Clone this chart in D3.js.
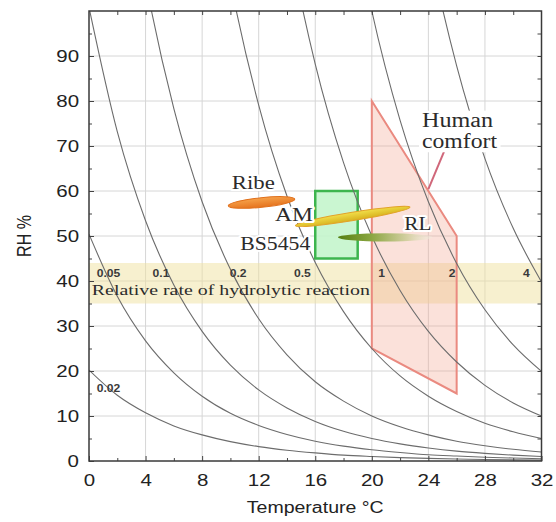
<!DOCTYPE html>
<html>
<head>
<meta charset="utf-8">
<script src="https://cdn.jsdelivr.net/npm/d3@7"></script>
<style>
  body { margin: 0; background: #fff; }
  svg { display: block; }
  .sans { font-family: "Liberation Sans", Arial, sans-serif; fill: #222; }
  .serif { font-family: "Liberation Serif", "Times New Roman", serif; fill: #2b2b2b; }
  .halo { paint-order: stroke; stroke: #fff; stroke-width: 4px; stroke-linejoin: round; }
</style>
</head>
<body>
<div id="chart"></div>
<script>
// axis ticks
const x_ticks = [0, 4, 8, 12, 16, 20, 24, 28, 32];
const y_ticks = [0, 10, 20, 30, 40, 50, 60, 70, 80, 90];

// isoperms: RH % read along the temperature grid (null = above the frame)
const iso_temps = [0, 2, 4, 6, 8, 10, 12, 14, 16, 18, 20, 22, 24, 26, 28, 30, 32];
const iso_002 = [20.2, 14.6, 10.7, 7.8, 5.8, 4.3, 3.2, 2.4, 1.8, 1.3, 1.0, 0.76, 0.58, 0.44, 0.34, 0.26, 0.2];
const iso_005 = [50.4, 36.6, 26.7, 19.6, 14.4, 10.6, 7.9, 5.9, 4.4, 3.3, 2.5, 1.9, 1.4, 1.1, 0.84, 0.65, 0.5];
const iso_01 = [100.8, 73.2, 53.4, 39.1, 28.8, 21.3, 15.8, 11.8, 8.8, 6.6, 5.0, 3.8, 2.9, 2.2, 1.7, 1.3, 1.0];
const iso_02 = [null, 146.4, 106.8, 78.3, 57.6, 42.6, 31.6, 23.6, 17.6, 13.3, 10.0, 7.6, 5.8, 4.4, 3.4, 2.6, 2.0];
const iso_05 = [null, null, null, null, 144.0, 106.5, 79.1, 58.9, 44.1, 33.2, 25.0, 18.9, 14.4, 11.0, 8.4, 6.5, 5.0];
const iso_1 = [null, null, null, null, null, null, 158.1, 117.9, 88.2, 66.3, 50.0, 37.9, 28.8, 22.0, 16.8, 12.9, 10.0];
const iso_2 = [null, null, null, null, null, null, null, null, 176.4, 132.6, 100.0, 75.7, 57.6, 43.9, 33.6, 25.8, 19.9];
const iso_4 = [null, null, null, null, null, null, null, null, null, null, null, 151.5, 115.1, 87.8, 67.2, 51.7, 39.8];

// rate labels inside the band
const rate_labels = ["0.05", "0.1", "0.2", "0.5", "1", "2", "4"];
const rate_label_t = [0.55, 4.5, 9.95, 14.5, 20.45, 25.45, 30.7];
const rate_label_rh = 40.9;
const low_label = "0.02";
const low_label_t = 0.55;
const low_label_rh = 15.3;

// hydrolysis band (RH %)
const band_rh = [35, 44];
const band_text = "Relative rate of hydrolytic reaction";

// human comfort zone
const comfort_t = [20, 26, 26, 20];
const comfort_rh = [80, 50, 15, 25];

// BS5454 box
const bs_t = [16, 19];
const bs_rh = [45, 60];

// recommendation ellipses: start/end (T, RH)
const ribe_t = [9.85, 14.55];
const ribe_rh = [56.7, 58.2];
const am_t = [14.6, 22.7];
const am_rh = [52.3, 56.4];
const rl_t = [17.6, 24.3];
const rl_rh = [49.7, 49.7];

// text annotations
const note_text = ["Ribe", "AM", "BS5454", "RL"];
const note_t = [10.1, 13.15, 10.7, 22.3];
const note_rh = [60.4, 53.3, 47.0, 51.3];
const comfort_text = ["Human", "comfort"];
const comfort_text_t = 23.55;
const comfort_text_rh = [74.3, 69.5];
const leader_t = [25.1, 24.0];
const leader_rh = [68.7, 60.4];

const x = d3.scaleLinear().domain([0, 32]).range([89, 541.5]);
const y = d3.scaleLinear().domain([0, 100]).range([461, 11]);

// horizontal stretch of the original lettering
const widen = (sel, k) => sel.each(function () {
  const n = this.getComputedTextLength();
  d3.select(this).attr("textLength", n * k).attr("lengthAdjust", "spacingAndGlyphs");
});

const fit = (sel, w) => sel.attr("textLength", w).attr("lengthAdjust", "spacingAndGlyphs");

const load_content = () => {
  const svg = d3.select("#chart").append("svg")
    .attr("width", 556)
    .attr("height", 522);

  const defs = svg.append("defs");
  defs.append("clipPath").attr("id", "plot-clip")
    .append("rect")
    .attr("x", x(0)).attr("y", y(100))
    .attr("width", x(32) - x(0)).attr("height", y(0) - y(100));

  const rl_grad = defs.append("linearGradient").attr("id", "rl-grad");
  rl_grad.append("stop").attr("offset", "0%").attr("stop-color", "#557f12");
  rl_grad.append("stop").attr("offset", "35%").attr("stop-color", "#8aa640");
  rl_grad.append("stop").attr("offset", "75%").attr("stop-color", "#d8d2a8");
  rl_grad.append("stop").attr("offset", "100%").attr("stop-color", "#f3eee2").attr("stop-opacity", 0.4);

  const ribe_grad = defs.append("linearGradient").attr("id", "ribe-grad").attr("x1", 0).attr("y1", 0).attr("x2", 0).attr("y2", 1);
  ribe_grad.append("stop").attr("offset", "0%").attr("stop-color", "#f6a24a");
  ribe_grad.append("stop").attr("offset", "100%").attr("stop-color", "#e5731e");

  const am_grad = defs.append("linearGradient").attr("id", "am-grad").attr("x1", 0).attr("y1", 0).attr("x2", 0).attr("y2", 1);
  am_grad.append("stop").attr("offset", "0%").attr("stop-color", "#f1df4a");
  am_grad.append("stop").attr("offset", "100%").attr("stop-color", "#d8b21e");

  const plot = svg.append("g").attr("clip-path", "url(#plot-clip)");

  // grid
  plot.append("g").selectAll("line")
    .data(x_ticks.slice(1, -1))
    .enter().append("line")
    .attr("x1", (d) => x(d)).attr("x2", (d) => x(d))
    .attr("y1", y(0)).attr("y2", y(100))
    .attr("stroke", "#d6d6d6").attr("stroke-width", 1);

  plot.append("g").selectAll("line")
    .data(y_ticks.slice(1))
    .enter().append("line")
    .attr("x1", x(0)).attr("x2", x(32))
    .attr("y1", (d) => y(d)).attr("y2", (d) => y(d))
    .attr("stroke", "#d6d6d6").attr("stroke-width", 1);

  // hydrolysis band
  plot.append("rect")
    .attr("x", x(0)).attr("width", x(32) - x(0))
    .attr("y", y(band_rh[1])).attr("height", y(band_rh[0]) - y(band_rh[1]))
    .attr("fill", "#efe2a0").attr("fill-opacity", 0.5);

  // human comfort zone
  plot.append("polygon")
    .attr("points", comfort_t.map((t, i) => [x(t), y(comfort_rh[i])].join(",")).join(" "))
    .attr("fill", "#f3a58e").attr("fill-opacity", 0.33)
    .attr("stroke", "#ea8a80").attr("stroke-width", 2);

  // BS5454 box
  plot.append("rect")
    .attr("x", x(bs_t[0])).attr("width", x(bs_t[1]) - x(bs_t[0]))
    .attr("y", y(bs_rh[1])).attr("height", y(bs_rh[0]) - y(bs_rh[1]))
    .attr("fill", "#c4f5cc").attr("fill-opacity", 0.9)
    .attr("stroke", "#3db54e").attr("stroke-width", 2.5);

  // isoperms
  const curves = [iso_002, iso_005, iso_01, iso_02, iso_05, iso_1, iso_2, iso_4];
  const line = d3.line()
    .x((d) => x(d[0]))
    .y((d) => y(d[1]))
    .curve(d3.curveMonotoneX);

  plot.append("g").selectAll("path")
    .data(curves.map((c) => iso_temps.map((t, i) => [t, c[i]]).filter((d) => d[1] !== null)))
    .enter().append("path")
    .attr("d", line)
    .attr("fill", "none")
    .attr("stroke", "#6c6c6c")
    .attr("stroke-width", 1.1);

  // leader line
  plot.append("line")
    .attr("x1", x(leader_t[0])).attr("y1", y(leader_rh[0]))
    .attr("x2", x(leader_t[1])).attr("y2", y(leader_rh[1]))
    .attr("stroke", "#d0677a").attr("stroke-width", 2);

  // rate labels
  const rl_g = plot.append("g");
  rl_g.selectAll("text")
    .data(rate_labels)
    .enter().append("text")
    .attr("class", "sans")
    .attr("x", (d, i) => x(rate_label_t[i]))
    .attr("y", y(rate_label_rh))
    .style("font-size", "11px")
    .style("font-weight", "bold")
    .style("fill", "#3a3a3a")
    .text((d) => d)
    .call(widen, 1.1);

  rl_g.append("text")
    .attr("class", "sans")
    .attr("x", x(low_label_t)).attr("y", y(low_label_rh))
    .style("font-size", "11px")
    .style("font-weight", "bold")
    .style("fill", "#3a3a3a")
    .text(low_label)
    .call(widen, 1.1);

  plot.append("text")
    .attr("class", "serif")
    .attr("x", x(0.2)).attr("y", y(37.0))
    .style("font-size", "15px")
    .text(band_text)
    .call(fit, 278);

  // ellipses
  const ellipse = (t, rh, ry, fill, stroke) => {
    const x0 = x(t[0]), y0 = y(rh[0]), x1 = x(t[1]), y1 = y(rh[1]);
    const rx = Math.hypot(x1 - x0, y1 - y0) / 2;
    const ang = Math.atan2(y1 - y0, x1 - x0) * 180 / Math.PI;
    svg.append("ellipse")
      .attr("transform", `translate(${(x0 + x1) / 2},${(y0 + y1) / 2}) rotate(${ang})`)
      .attr("rx", rx).attr("ry", ry)
      .attr("fill", fill)
      .attr("stroke", stroke || "none")
      .attr("stroke-width", 1);
  };
  ellipse(ribe_t, ribe_rh, 4.8, "url(#ribe-grad)", "#e0701c");
  ellipse(am_t, am_rh, 4.2, "url(#am-grad)", "#e2a22a");
  ellipse(rl_t, rl_rh, 4.2, "url(#rl-grad)");

  // annotations
  const note_w = { Ribe: 43, AM: 38, BS5454: 70, RL: 27 };
  svg.append("g").selectAll("text")
    .data(note_text)
    .enter().append("text")
    .attr("class", "serif halo")
    .attr("x", (d, i) => x(note_t[i]))
    .attr("y", (d, i) => y(note_rh[i]))
    .style("font-size", "19px")
    .text((d) => d)
    .each(function (d) { fit(d3.select(this), note_w[d]); });

  const hc = svg.append("g");
  const hc_bg = hc.append("rect").attr("fill", "#fff");
  const comfort_w = [71, 75];
  hc.selectAll("text")
    .data(comfort_text)
    .enter().append("text")
    .attr("class", "serif")
    .attr("x", x(comfort_text_t))
    .attr("y", (d, i) => y(comfort_text_rh[i]))
    .style("font-size", "20px")
    .text((d) => d)
    .each(function (d, i) { fit(d3.select(this), comfort_w[i]); });
  const bb = hc.node().getBBox();
  hc_bg.attr("x", bb.x - 3).attr("y", bb.y + 2)
    .attr("width", bb.width + 6).attr("height", bb.height - 2);

  // axes
  const axis_g = svg.append("g");
  const style_axis = (g) => {
    g.select(".domain").remove();
    g.selectAll("line").attr("stroke", "#444");
  };

  axis_g.append("g")
    .attr("transform", `translate(0,${y(0)})`)
    .call(d3.axisBottom(x).tickValues(x_ticks).tickSize(-5).tickPadding(14))
    .call(style_axis)
    .selectAll("text")
    .attr("class", "sans")
    .attr("font-family", null).attr("font-size", null)
    .style("font-size", "16px").style("fill", "#222")
    .call(widen, 1.28);

  axis_g.append("g")
    .attr("transform", `translate(0,${y(0)})`)
    .call(d3.axisBottom(x).tickValues(d3.range(2, 32, 4)).tickSize(-3).tickFormat(""))
    .call(style_axis);

  axis_g.append("g")
    .attr("transform", `translate(0,${y(100)})`)
    .call(d3.axisTop(x).tickValues(d3.range(2, 32, 2)).tickSize(-4).tickFormat(""))
    .call(style_axis);

  axis_g.append("g")
    .attr("transform", `translate(${x(0)},0)`)
    .call(d3.axisLeft(y).tickValues(y_ticks).tickSize(-5).tickPadding(10))
    .call(style_axis)
    .selectAll("text")
    .attr("class", "sans")
    .attr("font-family", null).attr("font-size", null)
    .style("font-size", "16px").style("fill", "#222")
    .call(widen, 1.28);

  axis_g.append("g")
    .attr("transform", `translate(${x(0)},0)`)
    .call(d3.axisLeft(y).tickValues(d3.range(5, 100, 10)).tickSize(-3).tickFormat(""))
    .call(style_axis);

  axis_g.append("g")
    .attr("transform", `translate(${x(32)},0)`)
    .call(d3.axisRight(y).tickValues(d3.range(5, 100, 5)).tickSize(-4).tickFormat(""))
    .call(style_axis);

  // frame
  svg.append("rect")
    .attr("x", x(0)).attr("y", y(100))
    .attr("width", x(32) - x(0)).attr("height", y(0) - y(100))
    .attr("fill", "none")
    .attr("stroke", "#3a3a3a")
    .attr("stroke-width", 1.5);

  // axis titles
  svg.append("text")
    .attr("class", "sans")
    .attr("x", x(16)).attr("y", 513)
    .attr("text-anchor", "middle")
    .style("font-size", "16px")
    .text("Temperature °C")
    .call(widen, 1.22);

  svg.append("g")
    .attr("transform", `translate(31,${y(50)}) rotate(-90)`)
    .append("text")
    .attr("class", "sans")
    .attr("text-anchor", "middle")
    .style("font-size", "16px")
    .attr("transform", "scale(1,1.25)")
    .text("RH %");
};

load_content();
</script>
</body>
</html>
